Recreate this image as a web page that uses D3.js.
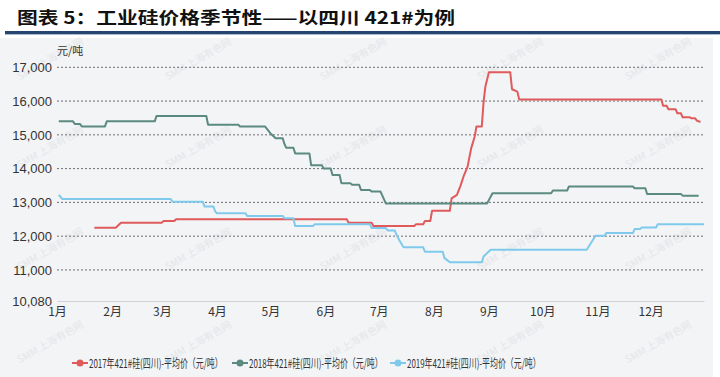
<!DOCTYPE html>
<html>
<head>
<meta charset="utf-8">
<script src="https://cdn.jsdelivr.net/npm/d3@7"></script>
<style>
  html, body { margin: 0; padding: 0; background: #fff; }
  svg { display: block; }
  text { font-family: "Liberation Sans Narrow", "Noto Sans CJK SC", sans-serif; fill: #333; }
</style>
</head>
<body>
<svg id="chart" width="720" height="377"></svg>
<script>
// month labels on the x axis
const months = ["1月","2月","3月","4月","5月","6月","7月","8月","9月","10月","11月","12月"];

// y axis ticks
const yTicks = [11000, 12000, 13000, 14000, 15000, 16000, 17000];
const yMin = 10080, yMax = 17000;

// 2017 series (MM-DD, 元/吨)
const dates2017 = ["01-22","02-03","02-06","03-01","03-02","03-08","03-09","06-13","06-14","06-27","06-28","07-21","07-22","07-26","07-27","07-30","07-31","08-10","08-11","08-14","08-16","08-18","08-20","08-22","08-24","08-25","08-28","08-29","08-30","09-01","09-13","09-14","09-17","09-18","12-07","12-08","12-10","12-11","12-15","12-16","12-18","12-19","12-23","12-24","12-26","12-27","12-29"];
const vals2017 = [12250,12250,12400,12400,12450,12450,12500,12500,12400,12400,12300,12300,12350,12350,12450,12450,12750,12750,13120,13220,13490,13810,14060,14600,14950,15250,15250,15980,16430,16850,16850,16350,16280,16050,16050,15860,15860,15760,15760,15640,15640,15520,15520,15490,15490,15420,15380];

// 2018 series
const dates2018 = ["01-02","01-10","01-11","01-14","01-15","01-28","01-29","02-25","02-26","03-26","03-27","04-13","04-14","04-28","05-01","05-04","05-08","05-09","05-10","05-14","05-15","05-23","05-24","05-30","05-31","06-04","06-05","06-09","06-10","06-15","06-16","06-20","06-21","06-26","06-27","07-02","07-05","08-31","09-03","10-06","10-07","10-15","10-16","11-21","11-22","11-28","11-29","12-18","12-19","12-28"];
const vals2018 = [15400,15400,15320,15320,15250,15250,15400,15400,15560,15560,15300,15300,15250,15250,15050,14900,14900,14720,14620,14620,14450,14450,14100,14100,14000,14000,13810,13810,13570,13570,13520,13520,13370,13370,13320,13320,12970,12970,13270,13270,13350,13350,13470,13470,13420,13420,13250,13250,13200,13200];

// 2019 series
const dates2019 = ["01-02","01-04","03-06","03-07","03-24","03-25","03-30","03-31","04-01","04-17","04-18","05-08","05-09","05-14","05-15","05-25","05-26","06-26","06-27","07-05","07-06","07-10","07-11","07-13","07-15","07-26","07-27","08-06","08-07","08-10","08-28","08-29","09-02","10-26","10-31","11-05","11-06","11-21","11-22","11-25","11-26","12-04","12-05","12-31"];
const vals2019 = [13220,13100,13100,13020,13020,12880,12880,12730,12680,12680,12600,12600,12530,12530,12300,12300,12350,12350,12240,12240,12170,12170,12040,11840,11670,11670,11540,11540,11350,11230,11230,11400,11600,11600,12010,12010,12090,12090,12210,12210,12255,12255,12355,12355];

const seriesNames = ["2017年421#硅(四川)-平均价（元/吨）","2018年421#硅(四川)-平均价（元/吨）","2019年421#硅(四川)-平均价（元/吨）"];
const seriesColors = ["#e05a5c","#5b8a80","#7fcaec"];

const parse = d3.utcParse("%Y-%m-%d");
const toPoints = (ds, vs) => ds.map((d, i) => ({ date: parse("2019-" + d), value: vs[i] }));
const series = [
  toPoints(dates2017, vals2017),
  toPoints(dates2018, vals2018),
  toPoints(dates2019, vals2019)
];

const svg = d3.select('#chart');

// grey panel behind the chart
svg.append('rect')
  .attr('x', 0).attr('y', 38)
  .attr('width', 713).attr('height', 339)
  .attr('fill', '#f3f4f6');

// title + rule
svg.append('text')
  .attr('x', 17).attr('y', 24)
  .attr('textLength', 438)
  .attr('lengthAdjust', 'spacingAndGlyphs')
  .style('font-family', '"Noto Sans CJK SC", sans-serif')
  .style('font-weight', 'bold')
  .style('font-size', '17px')
  .style('fill', '#111')
  .text('图表 5：工业硅价格季节性——以四川 421#为例');

svg.append('rect')
  .attr('x', 5).attr('y', 31)
  .attr('width', 715).attr('height', 3)
  .attr('fill', '#24466e');
svg.append('rect')
  .attr('x', 5).attr('y', 34)
  .attr('width', 715).attr('height', 1)
  .attr('fill', '#a9bdd3');

// watermark (very faint)
const wm = svg.append('g');
[52, 200, 355, 512, 660].forEach(wx => {
  [62, 150, 252, 345].forEach(wy => {
    wm.append('text')
      .attr('transform', `translate(${wx},${wy}) rotate(-30)`)
      .attr('text-anchor', 'middle')
      .style('font-size', '10px')
      .style('fill', '#e4e6e9')
      .text('SMM 上海有色网');
  });
});

// scales
const x = d3.scaleUtc()
  .domain([parse("2019-01-01"), parse("2019-12-31")])
  .range([57, 704]);
const y = d3.scaleLinear().domain([yMin, yMax]).range([301, 67.3]);

// gridlines (dashed)
svg.append('g')
  .selectAll('line')
  .data(yTicks)
  .enter()
  .append('line')
  .attr('x1', 57).attr('x2', 704)
  .attr('y1', d => y(d)).attr('y2', d => y(d))
  .attr('stroke', '#6b6e73')
  .attr('stroke-width', 1)
  .attr('stroke-dasharray', '2,2');

// y axis labels
const yAxis = svg.append('g')
  .attr('transform', 'translate(57,0)')
  .call(d3.axisLeft(y).tickValues([yMin].concat(yTicks)).tickSize(0).tickPadding(5).tickFormat(d3.format(',')));
yAxis.select('.domain').remove();
yAxis.selectAll('text')
  .style('font-family', '"Liberation Sans Narrow", sans-serif')
  .style('font-size', '13px')
  .style('fill', '#333');

svg.append('text')
  .attr('x', 57).attr('y', 55)
  .style('font-family', '"Noto Sans CJK SC", sans-serif')
  .style('font-size', '11px')
  .text('元/吨');

// x axis
const monthStarts = months.map((m, i) => new Date(Date.UTC(2019, i, 1)));
const xAxis = svg.append('g')
  .attr('transform', `translate(0,${y(yMin)})`)
  .call(d3.axisBottom(x).tickValues(monthStarts).tickSize(0).tickPadding(6).tickFormat((d, i) => months[i]));
xAxis.select('.domain').attr('stroke', '#cfd2d6').attr('stroke-width', 1.2);
xAxis.selectAll('text')
  .style('font-family', '"Liberation Sans Narrow", "Noto Sans CJK SC", sans-serif')
  .style('font-size', '12px')
  .style('fill', '#333');

// lines
const lineGen = d3.line()
  .x(d => x(d.date))
  .y(d => y(d.value));

svg.append('g')
  .selectAll('path')
  .data(series)
  .enter()
  .append('path')
  .attr('d', lineGen)
  .attr('fill', 'none')
  .attr('stroke', (d, i) => seriesColors[i])
  .attr('stroke-width', 2)
  .attr('stroke-linejoin', 'round');

// legend
const legendX = [80, 240, 398];
const legendTextW = 134;
const legend = svg.append('g')
  .selectAll('g')
  .data(seriesNames)
  .enter()
  .append('g')
  .attr('transform', (d, i) => `translate(${legendX[i]},363)`);

legend.append('line')
  .attr('x1', -8).attr('x2', 8)
  .attr('stroke', (d, i) => seriesColors[i])
  .attr('stroke-width', 2);
legend.append('circle')
  .attr('r', 3.5)
  .attr('fill', (d, i) => seriesColors[i]);
legend.append('g')
  .attr('transform', 'translate(9,4.5)')
  .append('text')
  .style('font-family', '"Liberation Sans Narrow", "Noto Sans CJK SC", sans-serif')
  .style('font-size', '12px')
  .style('fill', '#333')
  .text(d => d)
  .each(function() {
    // squeeze horizontally to the condensed width of the original
    const w = this.getComputedTextLength();
    d3.select(this.parentNode).attr('transform', `translate(9,4.5) scale(${legendTextW / w},1)`);
  });
</script>
</body>
</html>
